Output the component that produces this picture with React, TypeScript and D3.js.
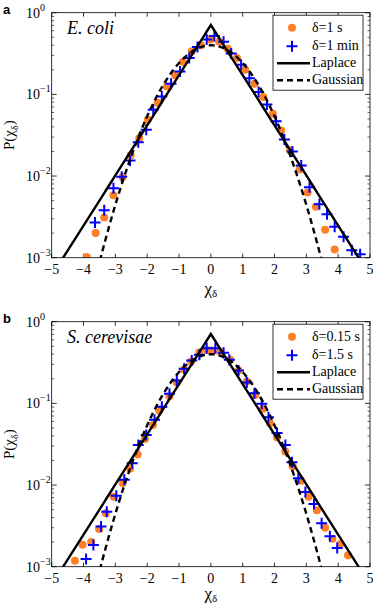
import React from "react"
import * as d3 from "d3"

// E. coli, delta = 1 s (orange dots)
const ecoliFastX = [-3.9, -3.62, -3.35, -3.06, -2.77, -2.52, -2.25, -1.98, -1.67, -1.38, -1.12, -0.88, -0.6, -0.31, -0.02, 0.26, 0.53, 0.82, 1.08, 1.37, 1.65, 1.95, 2.21, 2.49, 2.79, 3.04, 3.3, 3.59, 3.89]
const ecoliFastY = [0.00102, 0.002, 0.0031, 0.0058, 0.0097, 0.018, 0.029, 0.049, 0.079, 0.125, 0.171, 0.249, 0.337, 0.4, 0.47, 0.44, 0.363, 0.279, 0.2, 0.135, 0.093, 0.058, 0.036, 0.0206, 0.012, 0.0063, 0.0042, 0.0022, 0.00126]
// E. coli, delta = 1 min (blue crosses)
const ecoliSlowX = [-3.64, -3.35, -3.06, -2.8, -2.54, -2.28, -2.03, -1.81, -1.54, -1.25, -0.97, -0.68, -0.42, -0.13, 0.11, 0.4, 0.64, 0.95, 1.21, 1.5, 1.76, 2.05, 2.31, 2.56, 2.84, 3.1, 3.41, 3.65, 3.89, 4.17, 4.43, 4.69]
const ecoliSlowY = [0.0027, 0.0038, 0.0071, 0.0098, 0.0155, 0.026, 0.037, 0.065, 0.094, 0.135, 0.191, 0.279, 0.38, 0.47, 0.52, 0.44, 0.316, 0.231, 0.158, 0.107, 0.075, 0.047, 0.028, 0.02, 0.0135, 0.0073, 0.0045, 0.0034, 0.0024, 0.0018, 0.00123, 0.0011]

// S. cerevisae, delta = 0.15 s (orange dots)
const yeastFastX = [-4.27, -4.03, -3.76, -3.51, -3.3, -3.05, -2.77, -2.54, -2.3, -2.07, -1.82, -1.62, -1.3, -1.07, -0.84, -0.62, -0.36, -0.12, 0.03, 0.29, 0.61, 0.87, 1.13, 1.39, 1.64, 1.86, 2.08, 2.34, 2.57, 2.84, 3.07, 3.33, 3.59, 3.82, 4.07, 4.31]
const yeastFastY = [0.00118, 0.00186, 0.002, 0.0029, 0.0045, 0.0072, 0.0106, 0.0158, 0.0237, 0.0367, 0.0545, 0.0816, 0.122, 0.18, 0.26, 0.326, 0.42, 0.45, 0.445, 0.43, 0.342, 0.252, 0.185, 0.127, 0.0857, 0.057, 0.0384, 0.0257, 0.017, 0.0113, 0.0072, 0.0049, 0.003, 0.0022, 0.0019, 0.00138]
// S. cerevisae, delta = 1.5 s (blue crosses)
const yeastSlowX = [-3.92, -3.69, -3.45, -3.27, -2.97, -2.72, -2.47, -2.28, -2.03, -1.77, -1.54, -1.3, -1.07, -0.84, -0.6, -0.36, -0.13, 0.14, 0.4, 0.58, 0.87, 1.13, 1.37, 1.6, 1.81, 2.08, 2.34, 2.55, 2.75, 2.97, 3.24, 3.48, 3.74, 3.97]
const yeastSlowY = [0.00124, 0.00184, 0.0031, 0.0047, 0.0074, 0.0116, 0.0185, 0.031, 0.041, 0.063, 0.091, 0.131, 0.19, 0.265, 0.335, 0.394, 0.474, 0.474, 0.417, 0.342, 0.252, 0.18, 0.133, 0.0986, 0.0676, 0.0435, 0.031, 0.019, 0.0121, 0.0082, 0.00585, 0.0034, 0.00236, 0.0017]

const xTicks = [-5, -4, -3, -2, -1, 0, 1, 2, 3, 4, 5]
const yExponents = [0, -1, -2, -3]

const ORANGE = "#ff7f27"
const BLUE = "#0000ff"
const SERIF = "'Liberation Serif', 'Times New Roman', serif"

// unit-variance theoretical densities
const laplace = (x: number) => Math.SQRT1_2 * Math.exp(-Math.SQRT2 * Math.abs(x))
const gaussian = (x: number) => Math.exp(-x * x / 2) / Math.sqrt(2 * Math.PI)
const curveX = d3.range(-5, 5.0001, 0.02).map((v) => Math.round(v * 100) / 100)

interface PanelProps {
  top: number
  xLabelGap: number
  letter: string
  species: string
  fastLabel: string
  slowLabel: string
  fastX: number[]
  fastY: number[]
  slowX: number[]
  slowY: number[]
}

const Panel: React.FC<PanelProps> = ({ top, xLabelGap, letter, species, fastLabel, slowLabel, fastX, fastY, slowX, slowY }) => {
  const bottom = top + 245
  const x = d3.scaleLinear().domain([-5, 5]).range([51.7, 370])
  const y = d3.scaleLog().domain([1e-3, 1]).range([bottom, top])
  const [x0, x1] = x.range()
  const clipId = `clip-${letter}`

  const line = d3
    .line<number>()
    .x((d) => x(d))
  const lapPath = line.y((d) => y(Math.max(laplace(d), 1e-4)))(curveX) || ""
  const gauPath = line.y((d) => y(Math.max(gaussian(d), 1e-4)))(curveX) || ""

  const minor: number[] = []
  yExponents.slice(1).forEach((e) => {
    for (let k = 2; k <= 9; k++) minor.push(k * Math.pow(10, e))
  })

  const lx = 273
  const ly = top + 2.5
  return (
    <g>
      <defs>
        <clipPath id={clipId}>
          <rect x={x0} y={top} width={x1 - x0} height={bottom - top} />
        </clipPath>
      </defs>
      <text x={3} y={top + 1} fontFamily="'Liberation Sans', Arial, sans-serif" fontWeight="bold" fontSize={13}>{letter}</text>

      {/* ticks */}
      {xTicks.map((t) => (
        <g key={`xt${t}`} stroke="#000" strokeWidth={0.8}>
          <line x1={x(t)} x2={x(t)} y1={bottom} y2={bottom - 4} />
          <line x1={x(t)} x2={x(t)} y1={top} y2={top + 4} />
        </g>
      ))}
      {yExponents.map((e) => (
        <g key={`yt${e}`} stroke="#000" strokeWidth={0.8}>
          <line x1={x0} x2={x0 + 5} y1={y(Math.pow(10, e))} y2={y(Math.pow(10, e))} />
          <line x1={x1} x2={x1 - 5} y1={y(Math.pow(10, e))} y2={y(Math.pow(10, e))} />
        </g>
      ))}
      {minor.map((v, i) => (
        <g key={`ym${i}`} stroke="#000" strokeWidth={0.6}>
          <line x1={x0} x2={x0 + 2.5} y1={y(v)} y2={y(v)} />
          <line x1={x1} x2={x1 - 2.5} y1={y(v)} y2={y(v)} />
        </g>
      ))}

      {/* tick labels */}
      {xTicks.map((t) => (
        <text key={`xl${t}`} x={x(t)} y={bottom + 16} textAnchor="middle" fontFamily={SERIF} fontSize={14}>
          {t < 0 ? `\u2212${-t}` : `${t}`}
        </text>
      ))}
      {yExponents.map((e) => (
        <text key={`yl${e}`} x={26} y={y(Math.pow(10, e)) + 5} fontFamily={SERIF} fontSize={14}>
          10
          <tspan dy={-7} fontSize={10}>{e < 0 ? `\u2212${-e}` : `${e}`}</tspan>
        </text>
      ))}

      {/* axis labels */}
      <text x={(x0 + x1) / 2} y={bottom + xLabelGap} textAnchor="middle" fontFamily={SERIF} fontSize={17}>
        χ<tspan dy={3} fontSize={11}>δ</tspan>
      </text>
      <text transform={`translate(14,${(top + bottom) / 2}) rotate(-90)`} textAnchor="middle" fontFamily={SERIF} fontSize={15}>
        P(χ<tspan dy={4} fontSize={10}>δ</tspan><tspan dy={-4}>)</tspan>
      </text>

      <g clipPath={`url(#${clipId})`}>
        {fastX.map((v, i) => (
          <circle key={`f${i}`} cx={x(v)} cy={y(fastY[i])} r={4} fill={ORANGE} />
        ))}
        {slowX.map((v, i) => (
          <path key={`s${i}`} d={`M${x(v) - 5.5},${y(slowY[i])}h11M${x(v)},${y(slowY[i]) - 5.5}v11`} stroke={BLUE} strokeWidth={2} fill="none" />
        ))}
        <path d={lapPath} fill="none" stroke="#000" strokeWidth={2.4} />
        <path d={gauPath} fill="none" stroke="#000" strokeWidth={2.4} strokeDasharray="6,4" />
      </g>

      <rect x={x0} y={top} width={x1 - x0} height={bottom - top} fill="none" stroke="#000" strokeWidth={0.8} />

      <text x={67} y={top + 21} fontFamily={SERIF} fontStyle="italic" fontSize={18}>{species}</text>

      {/* legend */}
      <rect x={lx} y={ly} width={90} height={75} fill="#fff" stroke="#000" strokeWidth={0.8} />
      <circle cx={lx + 19} cy={ly + 12.5} r={4} fill={ORANGE} />
      <path d={`M${lx + 13.5},${ly + 31}h11M${lx + 19},${ly + 25.5}v11`} stroke={BLUE} strokeWidth={2} />
      <line x1={lx + 4} x2={lx + 37} y1={ly + 48} y2={ly + 48} stroke="#000" strokeWidth={2.4} />
      <line x1={lx + 4} x2={lx + 37} y1={ly + 65} y2={ly + 65} stroke="#000" strokeWidth={2.4} strokeDasharray="6,4" />
      <g fontFamily={SERIF} fontSize={14}>
        <text x={lx + 39} y={ly + 17}>{fastLabel}</text>
        <text x={lx + 39} y={ly + 35}>{slowLabel}</text>
        <text x={lx + 39} y={ly + 52}>Laplace</text>
        <text x={lx + 39} y={ly + 69}>Gaussian</text>
      </g>
    </g>
  )
}

const App: React.FC = () => {
  return (
    <svg width={373} height={606} style={{ position: "absolute", left: 0, top: 0, background: "#fff" }}>
      <Panel top={12.7} xLabelGap={36} letter="a" species="E. coli" fastLabel="δ=1 s" slowLabel="δ=1 min"
        fastX={ecoliFastX} fastY={ecoliFastY} slowX={ecoliSlowX} slowY={ecoliSlowY} />
      <Panel top={321.7} xLabelGap={32} letter="b" species="S. cerevisae" fastLabel="δ=0.15 s" slowLabel="δ=1.5 s"
        fastX={yeastFastX} fastY={yeastFastY} slowX={yeastSlowX} slowY={yeastSlowY} />
    </svg>
  )
}

export default App
